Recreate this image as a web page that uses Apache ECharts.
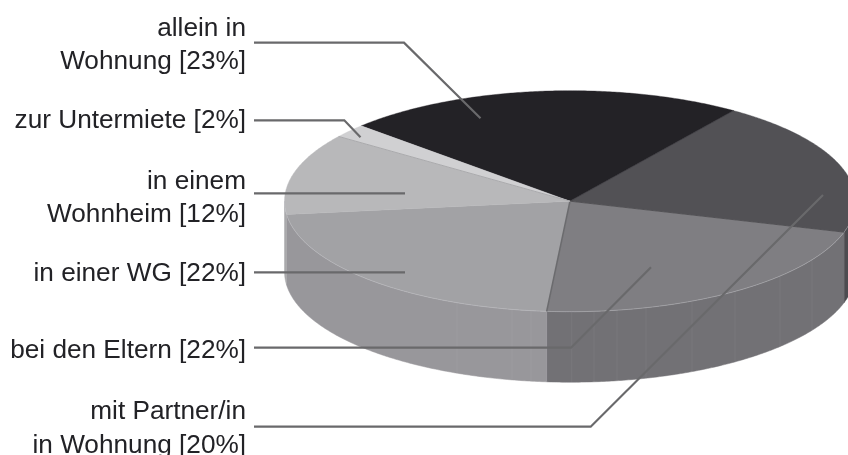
<!DOCTYPE html>
<html>
<head>
<meta charset="utf-8">
<style>html,body{margin:0;padding:0;background:#fff}#c{width:848px;height:455px}</style>
<script src="https://cdn.jsdelivr.net/npm/echarts@6/dist/echarts.min.js"></script>
</head>
<body>
<div id="c"></div>
<script>
// Data
const categories = ['allein in\nWohnung [23%]', 'mit Partner/in\nin Wohnung [20%]', 'bei den Eltern [22%]', 'in einer WG [22%]', 'in einem\nWohnheim [12%]', 'zur Untermiete [2%]'];
const shares = [23, 20, 22, 22, 12, 2];
// Styles
const topColors = ['#232226', '#525155', '#7f7e82', '#a2a2a5', '#b8b8ba', '#d0d0d2'];
const wallColors = ['#232226', '#4d4c50', '#727175', '#98979b', '#a9a9ab', '#c0c0c2'];
const edgeColors = [null, '#3a393d', '#47464a', '#6b6b6e', null, '#a0a0a2'];
const edgeWidths = [0, 0.8, 0.8, 1.6, 0, 0.8];
// Layout of the tilted disc
const disc = {cx: 570, cy: 201.2, rx: 285.5, ry: 110.5, depth: 70.5, start: -47};
const seamX = [457, 512, 531, 571.7, 594, 617, 646, 692, 735, 780, 812];
// Layout of the annotations
const labelPos = [[246, 45.5], [246, 429], [246, 351], [246, 274], [246, 198.5], [246, 120.5]];
const leaders = [
  [[254, 42.7], [404, 42.7], [480.5, 118.3]],
  [[254, 426.7], [590.7, 426.7], [823, 195]],
  [[254, 347.7], [571, 347.7], [651, 267.3]],
  [[254, 272.3], [405, 272.3]],
  [[254, 193.3], [405, 193.3]],
  [[254, 120.3], [344.3, 120.3], [360.5, 137.3]]
];

const total = shares.reduce((a, b) => a + b, 0);
function sliceRange(i) {
  let a = disc.start;
  for (let k = 0; k < i; k++) a += shares[k] / total * 360;
  return [a, a + shares[i] / total * 360];
}
function pt(deg, dy) {
  const r = deg * Math.PI / 180;
  return [disc.cx + disc.rx * Math.sin(r), disc.cy - disc.ry * Math.cos(r) + (dy || 0)];
}
function arc(a, b, dy) {
  const out = [], n = Math.max(2, Math.ceil((b - a) * 2));
  for (let k = 0; k <= n; k++) out.push(pt(a + (b - a) * k / n, dy));
  return out;
}
function renderWall(params) {
  const i = params.dataIndex, [a0, b0] = sliceRange(i);
  const a = Math.max(a0, 90), b = Math.min(b0, 270);
  if (b <= a) return {type: 'group', children: []};
  const children = [{type: 'polygon', shape: {points: arc(a, b, 0).concat(arc(a, b, disc.depth).reverse())},
    style: {fill: wallColors[i], stroke: wallColors[i], lineWidth: 0.5}}];
  seamX.forEach(x => {
    const deg = 180 - Math.asin((x - disc.cx) / disc.rx) * 180 / Math.PI;
    if (deg > a && deg < b) children.push({type: 'line',
      shape: {x1: pt(deg, 0)[0], y1: pt(deg, 0)[1], x2: pt(deg, disc.depth)[0], y2: pt(deg, disc.depth)[1]},
      style: {stroke: 'rgba(255,255,255,0.05)', lineWidth: 1}});
  });
  return {type: 'group', children};
}
function renderTop(params) {
  const i = params.dataIndex, [a, b] = sliceRange(i);
  const children = [{type: 'polygon', shape: {points: [[disc.cx, disc.cy]].concat(arc(a, b, 0))},
    style: {fill: topColors[i], stroke: topColors[i], lineWidth: 0.4}}];
  const fa = Math.max(a, 90), fb = Math.min(b, 270);
  if (fb > fa) children.push({type: 'polyline', shape: {points: arc(fa, fb, 0)},
    style: {fill: 'none', stroke: 'rgba(205,205,210,0.55)', lineWidth: 0.7}});
  if (edgeColors[i]) children.push({type: 'polyline', shape: {points: [[disc.cx, disc.cy], pt(a, 0)]},
    style: {fill: 'none', stroke: edgeColors[i], lineWidth: edgeWidths[i]}});
  return {type: 'group', children};
}
const data = shares.map((v, i) => ({name: categories[i], value: v}));
const chart = echarts.init(document.getElementById('c'));
chart.setOption({
  animation: false,
  backgroundColor: '#fff',
  series: [
    {type: 'custom', coordinateSystem: 'none', z: 1, silent: true, renderItem: renderWall, data},
    {type: 'custom', coordinateSystem: 'none', z: 2, silent: true, renderItem: renderTop, data}
  ],
  graphic: {elements: categories.map((t, i) => ({
    type: 'text', z: 5, silent: true, x: labelPos[i][0], y: labelPos[i][1],
    style: {text: t, align: 'right', verticalAlign: 'middle', fill: '#222226',
      font: '26.2px "Liberation Sans", Arial, sans-serif', lineHeight: 33.5}
  })).concat(leaders.map(p => ({
    type: 'polyline', z: 4, silent: true, shape: {points: p},
    style: {fill: 'none', stroke: '#69696b', lineWidth: 2.2, lineJoin: 'miter'}
  })))}
});
</script>
</body>
</html>
